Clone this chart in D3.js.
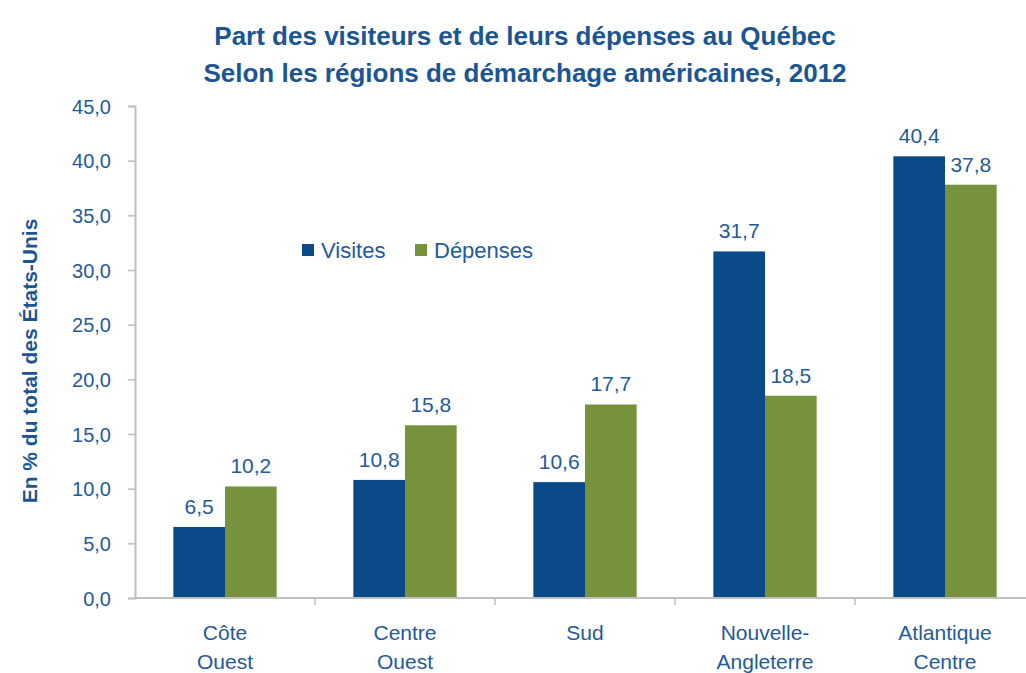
<!DOCTYPE html>
<html>
<head>
<meta charset="utf-8">
<script src="https://cdn.jsdelivr.net/npm/d3@7"></script>
<style>
  body { margin: 0; background: #fff; }
  svg text { font-family: "Liberation Sans", Arial, sans-serif; }
</style>
</head>
<body>
<div id="chart"></div>
<script>
// Données
const regions = [["Côte", "Ouest"], ["Centre", "Ouest"], ["Sud"], ["Nouvelle-", "Angleterre"], ["Atlantique", "Centre"]];
const visites = [6.5, 10.8, 10.6, 31.7, 40.4];
const depenses = [10.2, 15.8, 17.7, 18.5, 37.8];
const series = ["Visites", "Dépenses"];
const yTicks = [0, 5, 10, 15, 20, 25, 30, 35, 40, 45];
const titre = ["Part des visiteurs et de leurs dépenses au Québec", "Selon les régions de démarchage américaines, 2012"];

const W = 1026, H = 673;
const margin = {top: 106, right: -9, bottom: 75, left: 135};
const width = W - margin.left - margin.right;
const height = H - margin.top - margin.bottom;

const bleu = "#0B4A88", vert = "#76923C", texte = "#1F5A9A";

const svg = d3.select("#chart").append("svg")
    .attr("width", W).attr("height", H);

const g = svg.append("g").attr("transform", `translate(${margin.left},${margin.top})`);

const keys = regions.map(r => r.join(" "));
const data = keys.map((k, i) => ({region: k, lignes: regions[i], valeurs: [visites[i], depenses[i]]}));

const x0 = d3.scaleBand().domain(keys).range([0, width]).paddingInner(0).paddingOuter(0);
const x1 = d3.scaleBand().domain(series).range([x0.bandwidth() * 0.213, x0.bandwidth() * 0.787]);
const y = d3.scaleLinear().domain([0, 45]).range([height, 0]);
const couleur = d3.scaleOrdinal().domain(series).range([bleu, vert]);

// Titre
svg.append("text")
    .attr("x", 525).attr("y", 45)
    .attr("text-anchor", "middle")
    .attr("font-size", "26px").attr("font-weight", "bold")
    .attr("fill", "#1B5592")
    .selectAll("tspan").data(titre).enter().append("tspan")
    .attr("x", 525).attr("dy", (d, i) => i === 0 ? 0 : 37)
    .text(d => d);

// Axe Y
const axeY = g.append("g")
    .call(d3.axisLeft(y).tickValues(yTicks).tickSize(7).tickFormat(d => d3.format(".1f")(d).replace(".", ",")));
axeY.select(".domain").attr("stroke", "#BFBFBF").attr("stroke-width", 2);
axeY.selectAll(".tick line").attr("stroke", "#BFBFBF").attr("stroke-width", 1.5);
axeY.selectAll(".tick text").attr("x", -24).attr("dy", "0.35em")
    .attr("font-size", "20px").attr("fill", texte);

// Barres
const groupes = g.selectAll(".groupe").data(data).enter().append("g")
    .attr("class", "groupe")
    .attr("transform", d => `translate(${x0(d.region)},0)`);

groupes.selectAll("rect")
    .data(d => d.valeurs.map((v, i) => ({serie: series[i], valeur: v})))
    .enter().append("rect")
    .attr("x", d => x1(d.serie))
    .attr("y", d => y(d.valeur))
    .attr("width", x1.bandwidth())
    .attr("height", d => height - y(d.valeur))
    .attr("fill", d => couleur(d.serie));

groupes.selectAll(".etiquette")
    .data(d => d.valeurs.map((v, i) => ({serie: series[i], valeur: v})))
    .enter().append("text")
    .attr("class", "etiquette")
    .attr("x", d => x1(d.serie) + x1.bandwidth() / 2)
    .attr("y", d => y(d.valeur) - 13)
    .attr("text-anchor", "middle")
    .attr("font-size", "21px")
    .attr("fill", texte)
    .text(d => d3.format(".1f")(d.valeur).replace(".", ","));

// Axe X
const axeX = g.append("g").attr("transform", `translate(0,${height})`);
axeX.append("line").attr("x1", 0).attr("x2", width).attr("stroke", "#BFBFBF").attr("stroke-width", 2);
axeX.selectAll(".sep").data(keys.slice(1)).enter().append("line")
    .attr("x1", d => x0(d)).attr("x2", d => x0(d))
    .attr("y1", 0).attr("y2", 7)
    .attr("stroke", "#BFBFBF").attr("stroke-width", 1.5);
axeX.selectAll(".cat").data(data).enter().append("text")
    .attr("text-anchor", "middle")
    .attr("font-size", "21px").attr("fill", texte)
    .selectAll("tspan").data(d => d.lignes.map(l => ({l, cx: x0(d.region) + x0.bandwidth() / 2})))
    .enter().append("tspan")
    .attr("x", d => d.cx)
    .attr("y", (d, i) => 42 + i * 29)
    .text(d => d.l);

// Titre de l'axe Y
svg.append("text")
    .attr("transform", "translate(37,361) rotate(-90)")
    .attr("text-anchor", "middle")
    .attr("font-size", "21px").attr("font-weight", "bold")
    .attr("fill", "#1B5592")
    .text("En % du total des États-Unis");

// Légende
const legende = svg.append("g").attr("transform", "translate(302,250)");
const legX = [0, 113];
series.forEach((s, i) => {
    legende.append("rect").attr("x", legX[i]).attr("y", -6).attr("width", 12).attr("height", 12).attr("fill", couleur(s));
    legende.append("text").attr("x", legX[i] + 19).attr("y", 0).attr("dy", "0.35em")
        .attr("font-size", "22px").attr("fill", texte).text(s);
});
</script>
</body>
</html>
